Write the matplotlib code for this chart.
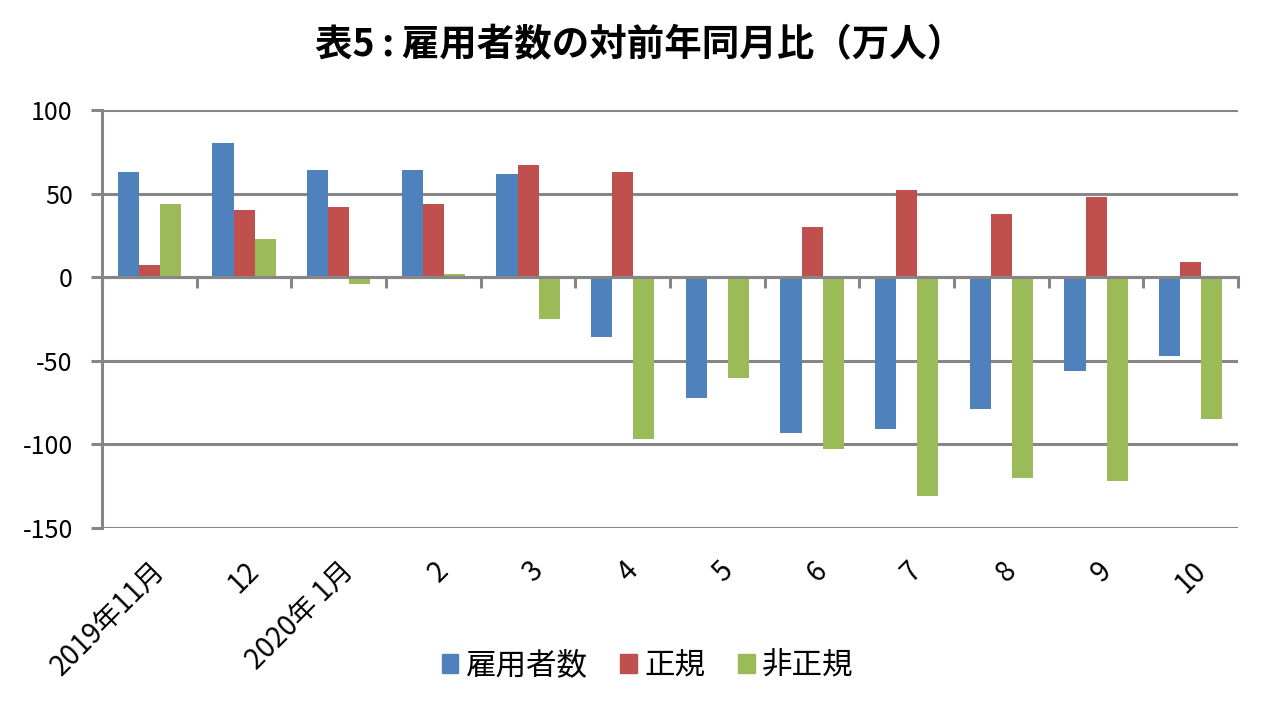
import numpy as np
import matplotlib
matplotlib.use("Agg")
import matplotlib.pyplot as plt
from matplotlib.patches import Patch

plt.rcParams['font.family'] = ['Noto Sans CJK JP', 'DejaVu Sans']
plt.rcParams['axes.unicode_minus'] = False

# データ(万人)
meses = ["2019年11月", "12", "2020年 1月", "2", "3", "4", "5", "6", "7", "8", "9", "10"]
koyousha = [63, 80, 64, 64, 62, -36, -72, -93, -91, -79, -56, -47]
seiki = [7, 40, 42, 44, 67, 63, 0, 30, 52, 38, 48, 9]
hiseiki = [44, 23, -4, 2, -25, -97, -60, -103, -131, -120, -122, -85]
series_names = ["雇用者数", "正規", "非正規"]
colores = ["#4F81BD", "#C0504D", "#9BBB59"]
gris = "#868686"

fig = plt.figure(figsize=(12.8, 7.07), dpi=100)
ax = fig.add_axes([0.0797, 0.2532, 0.8875, 0.5912])

x = np.arange(len(meses))
w = 0.222
for k, vals in enumerate([koyousha, seiki, hiseiki]):
    ax.bar(x + (k - 1) * w, vals, width=w, color=colores[k], zorder=3,
           label=series_names[k])

ax.set_xlim(-0.5, len(meses) - 0.5)
ax.set_ylim(-150, 100)
ax.set_yticks([100, 50, 0, -50, -100, -150])
ax.yaxis.grid(True, color=gris, linewidth=2.2, zorder=0)
ax.tick_params(axis='y', length=8, width=2.2, color=gris, labelsize=18, pad=13)

for s in ["top", "right"]:
    ax.spines[s].set_visible(False)
ax.spines["left"].set_color(gris)
ax.spines["left"].set_linewidth(2.2)

# eje x en cero con marcas entre categorias
ax.spines["bottom"].set_position(("data", 0))
ax.spines["bottom"].set_color(gris)
ax.spines["bottom"].set_linewidth(2.2)
ax.spines["bottom"].set_zorder(4)
ax.set_xticks(np.arange(len(meses) + 1) - 0.5)
ax.set_xticklabels([])
ax.tick_params(axis='x', length=8, width=2.2, color=gris, direction='out')

# etiquetas de categorias abajo
sec = ax.secondary_xaxis(0)
sec.set_xticks(x)
sec.set_xticklabels(meses, rotation=45, ha='right', rotation_mode='anchor', fontsize=20)
sec.tick_params(length=0, pad=20)
sec.spines["bottom"].set_visible(False)

fig.suptitle("表5\u2009:\u2009雇用者数の対前年同月比（万人）", fontsize=27, fontweight='bold', y=0.965)

handles = [Patch(color=c, label=n) for c, n in zip(colores, series_names)]
fig.legend(handles=handles, loc='center', bbox_to_anchor=(0.506, 0.058), ncol=3,
           frameon=False, fontsize=22, handlelength=0.55, handleheight=0.55,
           columnspacing=1.05, handletextpad=0.25)

fig.savefig("out.png", dpi=100)
